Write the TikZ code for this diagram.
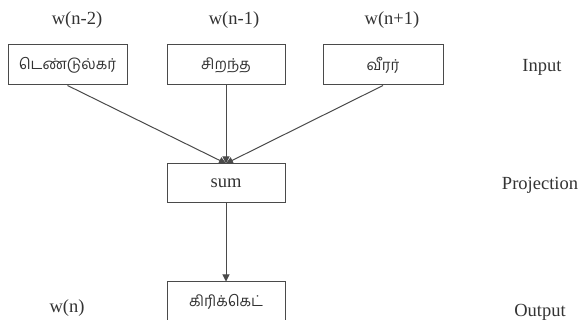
\documentclass[tikz,border=0pt]{standalone}
\usepackage{fontspec}
\setmainfont{Liberation Serif}
\newfontfamily\tamilfont[Script=Tamil]{Hind Madurai}
\usepackage{tikz}
\usetikzlibrary{arrows.meta,positioning}
\definecolor{linegray}{HTML}{4A4A4A}
\definecolor{textgray}{HTML}{333333}

\begin{document}
\begin{tikzpicture}[x=1pt, y=-1pt,
  every node/.style={font=\fontsize{18.5}{22}\selectfont, text=textgray},
  box/.style={draw=linegray, line width=1pt, minimum height=40pt,
              minimum width=118pt, inner sep=0pt,
              font=\tamilfont\fontsize{15}{18}\selectfont},
  ar/.style={-{Triangle[length=7pt,width=7pt]}, draw=linegray, line width=1pt}]
  \useasboundingbox (0,0) rectangle (578,320);
  % input words
  \node[box, minimum width=119pt] (w1) at (67.5,65) {டெண்டுல்கர்};
  \node[box] (w2) at (226,65) {சிறந்த};
  \node[box, minimum width=120pt] (w3) at (383,65) {வீரர்};
  \node (l1) at (77,20) {w(n-2)};
  \node (l2) at (234,20) {w(n-1)};
  \node (l3) at (392,20) {w(n+1)};
  % projection and output
  \node[box, minimum height=39pt, font=\fontsize{18.5}{22}\selectfont] (sum) at (226,183.5) {sum};
  \node[box] (out) at (226,302) {கிரிக்கெட்};
  \node (lout) at (67,308) {w(n)};
  % layer names
  \node (input) at (542,67) {Input};
  \node (proj) at (540,185) {Projection};
  \node (outp) at (540,312) {Output};
  \draw[ar] (w1.south) -- (sum.north);
  \draw[ar] (w2.south) -- (sum.north);
  \draw[ar] (w3.south) -- (sum.north);
  \draw[ar] (sum.south) -- (out.north);
\end{tikzpicture}
\end{document}
